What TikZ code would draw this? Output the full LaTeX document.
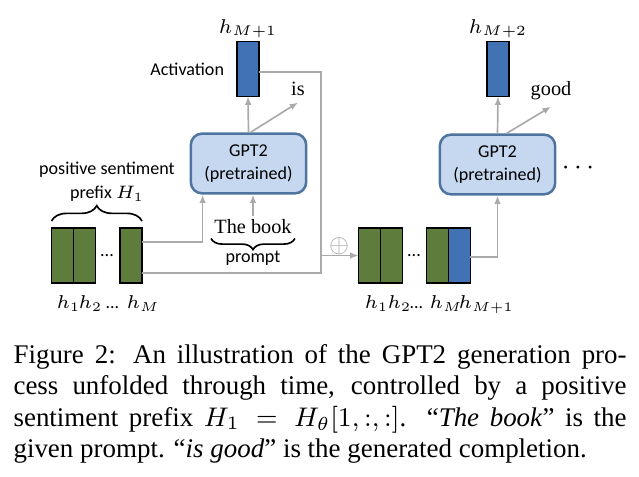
\documentclass[tikz,border=0pt]{standalone}
\usepackage{fix-cm}
\usepackage{fontspec}
\setmainfont{Liberation Serif}
\newfontfamily\calibri{Carlito}
\usepackage{tikz}
\usetikzlibrary{arrows.meta, decorations.pathreplacing, positioning, calc}
\definecolor{prefgreen}{RGB}{94,125,61}
\definecolor{actblue}{RGB}{64,114,180}
\definecolor{gptfill}{RGB}{197,216,239}
\definecolor{gptborder}{RGB}{79,116,160}
\definecolor{flowgray}{RGB}{170,170,170}

\begin{document}
\begin{tikzpicture}[x=0.36pt, y=-0.36pt,
    vec/.style={draw=black, line width=0.45pt, minimum width=7.9pt, minimum height=19.8pt, inner sep=0pt, outer sep=0pt},
    prefvec/.style={vec, fill=prefgreen},
    actvec/.style={vec, fill=actblue},
    gptbox/.style={draw=gptborder, fill=gptfill, line width=0.9pt, rounded corners=4pt,
        minimum width=41.5pt, minimum height=21.5pt, inner sep=0pt, align=center,
        font=\fontsize{6.5}{8.3}\selectfont\calibri},
    sans/.style={inner sep=0pt, font=\fontsize{6.5}{8.6}\selectfont\calibri},
    word/.style={inner sep=1pt, font=\fontsize{7.3}{8.5}\selectfont},
    hlbl/.style={inner sep=0pt, anchor=base west, font=\fontsize{6.7}{8}\selectfont},
    flow/.style={draw=flowgray, line width=0.6pt},
    arr/.style={flow, -{Latex[length=3pt, width=2.4pt]}},
    brace/.style={decorate, decoration={brace, amplitude=#1}, line width=0.6pt},
    caption/.style={inner sep=0pt, anchor=north west, text width=220.7pt, align=justify,
        font=\fontsize{9.7}{11.3}\selectfont}]

\useasboundingbox (0,0) rectangle (639,476);

% activations on top
\node[actvec] (actA) at (248,69) {};
\node[actvec] (actB) at (498,69) {};
\node[hlbl, anchor=base, font=\fontsize{7.2}{8}\selectfont] at (248,33) {$h_{M+1}$};
\node[hlbl, anchor=base, font=\fontsize{7.2}{8}\selectfont] at (498,33) {$h_{M+2}$};
\node[sans, left=4.5pt of actA] (actlbl) {Activation};

% the two GPT2 steps
\node[gptbox] (gptA) at (248.5,163.5) {GPT2\\(pretrained)};
\node[gptbox] (gptB) at (497.5,164.5) {GPT2\\(pretrained)};
\node[inner sep=0pt, font=\fontsize{10}{10}\selectfont] (more) at (578,168) {$\cdots$};

% generated words
\node[word, anchor=base] (isw) at (298,95) {is};
\node[word, anchor=base] (goodw) at (551,95) {good};

\draw[arr] (gptA.north) -- (actA.south);
\draw[arr] ($(gptA.north)+(2,0)$) -- ($(isw.south)+(0,4)$);
\draw[arr] (gptB.north) -- (actB.south);
\draw[arr] ($(gptB.north)+(9,0)$) -- ($(goodw.south)+(0,4)$);

% prefix H_1
\node[prefvec] (p1) at (62.5,255.5) {};
\node[prefvec, right=0pt of p1] (p2) {};
\node[prefvec] (pM) at (131,255.5) {};
\node[sans, anchor=base] at (107,256) {...};
\node[hlbl] at (56,308) {$h_1$};
\node[hlbl] at (78,308) {$h_2$};
\node[hlbl, font=\fontsize{6.4}{8}\selectfont\calibri] at (105,308) {...};
\node[hlbl] at (126,308) {$h_M$};
\draw[brace=5.5pt] ($(p1.north west)+(0,-7)$) -- ($(pM.north east)+(0,-7)$);
\node[sans, align=center] (preflbl) at (107,182) {positive sentiment\\prefix $H_1$};

% prompt
\node[word, anchor=base] (book) at (253,233) {The book};
\draw[arr] (book.north) -- (book.north |- gptA.south);
\draw[brace=4pt] ($(book.south east)+(0,2)$) -- ($(book.south west)+(0,2)$);
\node[sans, anchor=base] (promptlbl) at (253,262) {prompt};

% inputs into the first step
\draw[arr] ($(pM.east)+(0,-13.5)$) -| ($(gptA.south west)+(13,0)$);
\coordinate (junc) at (321,273);
\coordinate (split) at (321,255.5);
\draw[flow] ($(actA.east)+(0,3)$) -| (junc) -- ($(pM.east)+(0,17.5)$);

% second step input
\node[prefvec] (q1) at (369.5,255.5) {};
\node[prefvec, right=0pt of q1] (q2) {};
\node[prefvec] (qM) at (437.5,255.5) {};
\node[actvec, right=0pt of qM] (qM1) {};
\node[sans, anchor=base] at (414,256) {...};
\node[hlbl] at (364,308) {$h_1$};
\node[hlbl] at (387,308) {$h_2$};
\node[hlbl, font=\fontsize{6.4}{8}\selectfont\calibri] at (409,308) {...};
\node[hlbl] at (429,308) {$h_M$};
\node[hlbl] at (458,308) {$h_{M+1}$};

\draw[arr] (split) -- (q1);
\node[inner sep=0pt, text=flowgray, font=\fontsize{9}{9}\selectfont] at (339,246) {$\oplus$};
\draw[arr] ($(qM1.east)+(0,1.5)$) -| (gptB.south);

% caption
\node[caption] (cap) at (13,344) {Figure 2: An illustration of the GPT2 generation pro-\linebreak
cess unfolded through time, controlled by a positive\linebreak
sentiment prefix $H_1 = H_\theta[1,:,:]$. ``\textit{The book}'' is the\linebreak
given prompt. ``\textit{is good}'' is the generated completion.};

\end{tikzpicture}
\end{document}
